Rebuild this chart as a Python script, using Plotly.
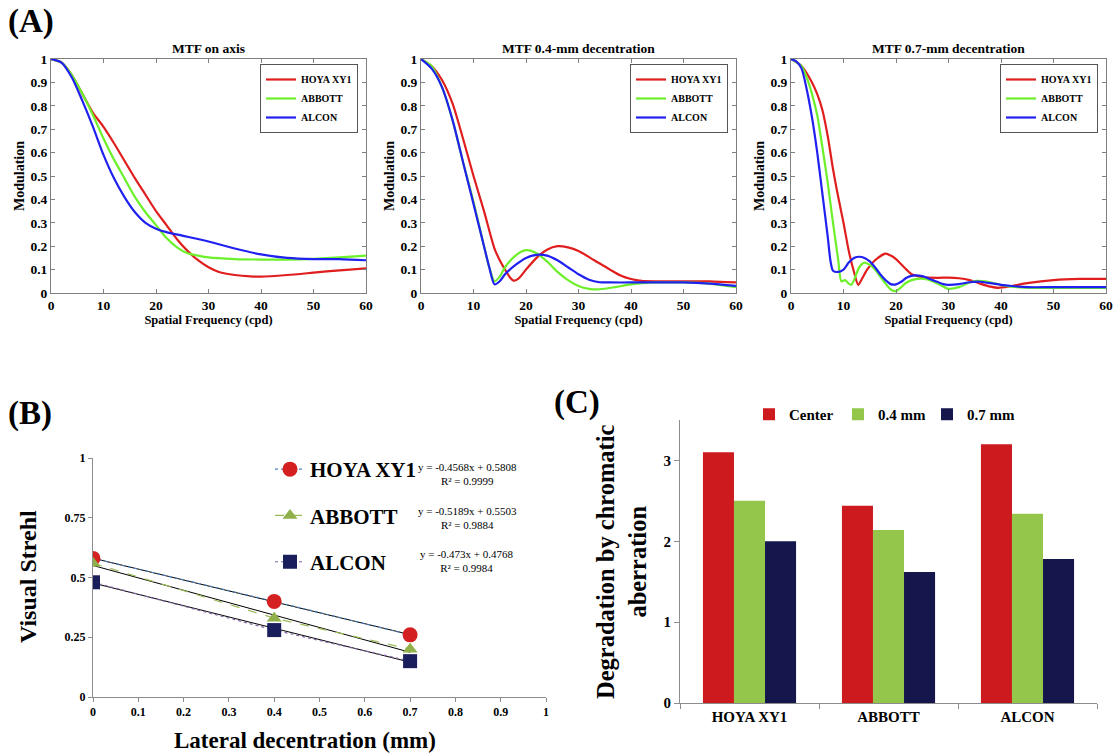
import plotly.graph_objects as go

W, H = 1120, 754
SERIF = "Liberation Serif"

def fx(p):
    return p / W

def fy(p):
    return 1 - p / H

# ---------------- Panel A data ----------------
series_names = ["HOYA XY1", "ABBOTT", "ALCON"]
mtf_colors = ["#E01E1E", "#6CF02A", "#2020F0"]
panel_titles = ["MTF on axis", "MTF 0.4-mm decentration", "MTF 0.7-mm decentration"]

# MTF on axis
axis_hoya_x = [0, 2, 4, 6, 8, 10, 12, 14, 16, 18, 20, 22, 24, 26, 28, 30, 32, 35, 38, 40, 45, 50, 55, 60]
axis_hoya_y = [1.0, 0.985, 0.93, 0.85, 0.77, 0.71, 0.64, 0.565, 0.49, 0.42, 0.35, 0.29, 0.23, 0.18, 0.14, 0.11, 0.09, 0.077, 0.071, 0.07, 0.077, 0.087, 0.097, 0.105]
axis_abbott_x = [0, 2, 4, 6, 8, 10, 12, 14, 16, 18, 20, 22, 24, 26, 28, 30, 35, 40, 45, 50, 55, 60]
axis_abbott_y = [1.0, 0.985, 0.93, 0.85, 0.76, 0.66, 0.57, 0.49, 0.41, 0.345, 0.29, 0.235, 0.195, 0.17, 0.16, 0.152, 0.145, 0.143, 0.143, 0.146, 0.152, 0.16]
axis_alcon_x = [0, 2, 4, 6, 8, 10, 12, 14, 16, 18, 20, 22, 25, 30, 35, 40, 45, 50, 55, 60]
axis_alcon_y = [1.0, 0.985, 0.92, 0.82, 0.71, 0.59, 0.49, 0.41, 0.345, 0.30, 0.275, 0.26, 0.245, 0.22, 0.19, 0.165, 0.15, 0.145, 0.145, 0.14]

# MTF 0.4-mm decentration
dec4_hoya_x = [0, 2, 4, 6, 8, 10, 12, 14, 15, 16, 17, 17.6, 18.5, 20, 22, 24, 26, 28, 30, 33, 36, 38, 40, 42, 45, 50, 55, 60]
dec4_hoya_y = [1.0, 0.97, 0.91, 0.81, 0.66, 0.50, 0.35, 0.19, 0.14, 0.10, 0.065, 0.053, 0.06, 0.10, 0.15, 0.185, 0.20, 0.195, 0.18, 0.14, 0.10, 0.075, 0.06, 0.052, 0.05, 0.05, 0.05, 0.045]
dec4_abbott_x = [0, 2, 4, 6, 8, 10, 12, 13, 14, 15, 16, 18, 20, 22, 24, 26, 28, 30, 32, 34, 37, 40, 45, 50, 55, 60]
dec4_abbott_y = [1.0, 0.97, 0.88, 0.74, 0.56, 0.39, 0.20, 0.11, 0.05, 0.07, 0.11, 0.16, 0.183, 0.17, 0.135, 0.09, 0.055, 0.03, 0.018, 0.016, 0.025, 0.037, 0.045, 0.045, 0.04, 0.025]
dec4_alcon_x = [0, 2, 4, 6, 8, 10, 12, 13, 14, 15, 16, 18, 20, 22, 24, 26, 28, 30, 32, 34, 36, 40, 45, 50, 55, 60]
dec4_alcon_y = [1.0, 0.96, 0.88, 0.74, 0.56, 0.38, 0.20, 0.11, 0.037, 0.05, 0.08, 0.12, 0.15, 0.163, 0.16, 0.14, 0.11, 0.08, 0.057, 0.046, 0.045, 0.045, 0.045, 0.045, 0.04, 0.03]

# MTF 0.7-mm decentration
dec7_hoya_x = [0, 2, 4, 5, 6, 7, 8, 9, 10, 11, 12, 12.8, 13.5, 14.5, 16, 18, 19, 20, 22, 23, 25, 28, 30, 32, 34, 36, 38, 39.5, 42, 45, 50, 55, 60]
dec7_hoya_y = [1.0, 0.97, 0.90, 0.85, 0.78, 0.67, 0.53, 0.41, 0.30, 0.18, 0.09, 0.035, 0.06, 0.10, 0.14, 0.168, 0.16, 0.145, 0.10, 0.08, 0.068, 0.065, 0.066, 0.063, 0.055, 0.04, 0.027, 0.022, 0.03, 0.042, 0.055, 0.06, 0.06]
dec7_abbott_x = [0, 2, 3, 4, 5, 6, 7, 8, 9, 9.6, 10.3, 11, 11.5, 12, 13, 14, 15, 16, 17, 18, 19, 20, 21, 22, 24, 26, 28, 30, 32, 34, 35.5, 37, 39, 41, 43, 46, 50, 55, 60]
dec7_abbott_y = [1.0, 0.97, 0.92, 0.85, 0.76, 0.62, 0.47, 0.30, 0.14, 0.05, 0.055, 0.04, 0.035, 0.055, 0.11, 0.13, 0.12, 0.10, 0.07, 0.04, 0.015, 0.008, 0.025, 0.045, 0.06, 0.058, 0.04, 0.018, 0.025, 0.045, 0.052, 0.05, 0.04, 0.03, 0.025, 0.022, 0.022, 0.022, 0.022]
dec7_alcon_x = [0, 1, 2, 3, 4, 5, 6, 7, 7.5, 8, 9, 10, 11, 12, 13, 14, 15, 16, 17, 18, 19, 20, 21, 22, 23.5, 25, 27, 29, 30, 32, 34, 36, 38, 40, 42, 45, 50, 55, 60]
dec7_alcon_y = [1.0, 0.99, 0.96, 0.87, 0.75, 0.60, 0.42, 0.24, 0.14, 0.095, 0.09, 0.10, 0.13, 0.15, 0.155, 0.15, 0.135, 0.11, 0.08, 0.055, 0.038, 0.037, 0.048, 0.065, 0.075, 0.072, 0.055, 0.038, 0.035, 0.038, 0.046, 0.048, 0.042, 0.035, 0.03, 0.025, 0.025, 0.025, 0.025]

panel_curves = [
    [(axis_hoya_x, axis_hoya_y), (axis_abbott_x, axis_abbott_y), (axis_alcon_x, axis_alcon_y)],
    [(dec4_hoya_x, dec4_hoya_y), (dec4_abbott_x, dec4_abbott_y), (dec4_alcon_x, dec4_alcon_y)],
    [(dec7_hoya_x, dec7_hoya_y), (dec7_abbott_x, dec7_abbott_y), (dec7_alcon_x, dec7_alcon_y)],
]

# ---------------- Panel B data ----------------
decentration = [0, 0.4, 0.7]
strehl_hoya = [0.58, 0.40, 0.26]
strehl_abbott = [0.56, 0.33, 0.20]
strehl_alcon = [0.48, 0.28, 0.15]
fit_slopes = [-0.4568, -0.5189, -0.473]
fit_intercepts = [0.5808, 0.5503, 0.4768]
fit_r2 = ["0.9999", "0.9884", "0.9984"]
fit_slope_text = ["-0.4568", "-0.5189", "-0.473"]
fit_int_text = ["0.5808", "0.5503", "0.4768"]
b_marker_colors = ["#D42020", "#8FB04A", "#1A1F5C"]
b_marker_symbols = ["circle", "triangle-up", "square"]
b_line_colors = ["#4F81BD", "#9BBB59", "#8064A2"]
b_line_dash = ["dot", "dash", "dot"]

# ---------------- Panel C data ----------------
lenses = ["HOYA XY1", "ABBOTT", "ALCON"]
deg_center = [3.10, 2.44, 3.20]
deg_04 = [2.50, 2.14, 2.34]
deg_07 = [2.00, 1.62, 1.78]
c_names = ["Center", "0.4 mm", "0.7 mm"]
c_colors = ["#CC1A1E", "#93C64B", "#14164C"]

fig = go.Figure()

# ---------- Panel A ----------
a_left = [51, 421, 791]
a_right = [366, 736, 1106]
a_top, a_bot = 59, 293
legend_right = [358, 728, 1098]
ax_names = ["", "2", "3"]
leg_names = ["legend", "legend2", "legend3"]

for p in range(3):
    xa = "x" + ax_names[p]
    ya = "y" + ax_names[p]
    for s in range(3):
        xs, ys = panel_curves[p][s]
        fig.add_trace(go.Scatter(
            x=xs, y=ys, mode="lines", name=series_names[s],
            line=dict(color=mtf_colors[s], width=2.2, shape="spline", smoothing=0.7),
            xaxis=xa, yaxis=ya, legend=leg_names[p], showlegend=True,
        ))
    axis_common = dict(showline=True, linecolor="#7F7F7F", linewidth=1, mirror="ticks",
                       ticks="inside", ticklen=4, tickcolor="#7F7F7F", showgrid=False,
                       zeroline=False,
                       tickfont=dict(family=SERIF, size=13.5, color="black", weight="bold"))
    fig.layout["xaxis" + ax_names[p]] = dict(
        domain=[fx(a_left[p]), fx(a_right[p])], anchor=ya, range=[0, 60], dtick=10,
        title=dict(text="Spatial Frequency (cpd)", standoff=1,
                   font=dict(family=SERIF, size=12.5, color="black", weight="bold")),
        **axis_common)
    fig.layout["yaxis" + ax_names[p]] = dict(
        domain=[fy(a_bot), fy(a_top)], anchor=xa, range=[0, 1], dtick=0.1,
        title=dict(text="Modulation", standoff=2,
                   font=dict(family=SERIF, size=14, color="black", weight="bold")),
        **axis_common)
    fig.layout[leg_names[p]] = dict(
        x=fx(legend_right[p]), y=fy(64), xanchor="right", yanchor="top",
        bordercolor="#555555", borderwidth=1, bgcolor="white",
        font=dict(family=SERIF, size=10, color="black", weight="bold"),
        itemwidth=30, tracegroupgap=0, traceorder="normal",
    )
    fig.add_annotation(text=panel_titles[p], x=fx((a_left[p] + a_right[p]) / 2), y=fy(48),
                       xref="paper", yref="paper", showarrow=False, xanchor="center", yanchor="middle",
                       font=dict(family=SERIF, size=13.5, color="black", weight="bold"))

# ---------- Panel B ----------
b_series = [strehl_hoya, strehl_abbott, strehl_alcon]
fit_x = [decentration[0], decentration[-1]]
for s in range(3):
    fit_y = [fit_slopes[s] * xv + fit_intercepts[s] for xv in fit_x]
    fig.add_trace(go.Scatter(x=fit_x, y=fit_y, mode="lines", line=dict(color="black", width=1),
                             xaxis="x4", yaxis="y4", showlegend=False, hoverinfo="skip"))
for s in range(3):
    fig.add_trace(go.Scatter(
        x=decentration, y=b_series[s], mode="lines+markers", name=series_names[s],
        line=dict(color=b_line_colors[s], width=1.2, dash=b_line_dash[s]),
        marker=dict(color=b_marker_colors[s], symbol=b_marker_symbols[s],
                    size=[15, 13, 14][s], line=dict(width=0)),
        xaxis="x4", yaxis="y4", legend="legend4", legendgroup="b" + str(s), showlegend=True,
    ))

b_axis_common = dict(showline=True, linecolor="#8C8C8C", linewidth=1, ticks="outside",
                     ticklen=4, tickcolor="#8C8C8C", showgrid=False, zeroline=False,
                     tickfont=dict(family=SERIF, size=12, color="black", weight="bold"))
fig.layout["xaxis4"] = dict(domain=[fx(93), fx(546)], anchor="y4", range=[0, 1],
                            tickvals=[0, 0.1, 0.2, 0.3, 0.4, 0.5, 0.6, 0.7, 0.8, 0.9, 1],
                            **b_axis_common)
fig.layout["yaxis4"] = dict(domain=[fy(697), fy(458)], anchor="x4", range=[0, 1],
                            tickvals=[0, 0.25, 0.5, 0.75, 1], **b_axis_common)
fig.layout["legend4"] = dict(x=fx(270), y=fy(449), xanchor="left", yanchor="top",
                             bgcolor="rgba(0,0,0,0)", borderwidth=0,
                             font=dict(family=SERIF, size=21, color="black", weight="bold"),
                             itemwidth=30, tracegroupgap=16, traceorder="grouped")
eq_y = [467, 511, 554]
for s in range(3):
    fig.add_annotation(
        text="y = " + fit_slope_text[s] + "x + " + fit_int_text[s] + "<br>R² = " + fit_r2[s],
        x=fx(467), y=fy(eq_y[s] + 7), xref="paper", yref="paper", showarrow=False,
        xanchor="center", yanchor="middle", align="center",
        font=dict(family=SERIF, size=11, color="black"))
fig.add_annotation(text="Visual Strehl", x=fx(28), y=fy(577), xref="paper", yref="paper",
                   showarrow=False, textangle=-90, xanchor="center", yanchor="middle",
                   font=dict(family=SERIF, size=24, color="black", weight="bold"))
fig.add_annotation(text="Lateral decentration (mm)", x=fx(305), y=fy(740), xref="paper", yref="paper",
                   showarrow=False, xanchor="center", yanchor="middle",
                   font=dict(family=SERIF, size=23, color="black", weight="bold"))

# ---------- Panel C ----------
for vals, nm, col in zip([deg_center, deg_04, deg_07], c_names, c_colors):
    fig.add_trace(go.Bar(x=lenses, y=vals, name=nm, marker=dict(color=col, line=dict(width=0)),
                         xaxis="x5", yaxis="y5", legend="legend5", showlegend=True))
fig.layout["xaxis5"] = dict(domain=[fx(680), fx(1097)], anchor="y5", type="category",
                            showline=True, linecolor="#8C8C8C", linewidth=1, ticks="outside",
                            tickson="boundaries", ticklen=5, tickcolor="#8C8C8C", showgrid=False,
                            tickfont=dict(family=SERIF, size=15, color="black", weight="bold"))
fig.layout["yaxis5"] = dict(domain=[fy(703), fy(420)], anchor="x5", range=[0, 3.5],
                            tickvals=[0, 1, 2, 3], showline=True, linecolor="#8C8C8C", linewidth=1,
                            ticks="outside", ticklen=5, tickcolor="#8C8C8C", showgrid=False,
                            zeroline=False,
                            tickfont=dict(family=SERIF, size=15, color="black", weight="bold"))
fig.layout["legend5"] = dict(orientation="h", x=fx(749), y=fy(398), xanchor="left", yanchor="top",
                             bgcolor="rgba(0,0,0,0)", entrywidth=44, entrywidthmode="pixels",
                             font=dict(family=SERIF, size=15, color="black", weight="bold"),
                             itemwidth=30, traceorder="normal")
fig.add_annotation(text="Degradation by chromatic<br>aberration", x=fx(621), y=fy(562),
                   xref="paper", yref="paper", showarrow=False, textangle=-90,
                   xanchor="center", yanchor="middle", align="center",
                   font=dict(family=SERIF, size=24.5, color="black", weight="bold"))

# ---------- Panel labels ----------
for lab, xp, yp in [("(A)", 6, 22), ("(B)", 6, 413), ("(C)", 552, 402)]:
    fig.add_annotation(text=lab, x=fx(xp), y=fy(yp), xref="paper", yref="paper", showarrow=False,
                       xanchor="left", yanchor="middle",
                       font=dict(family=SERIF, size=33, color="black", weight="bold"))

fig.update_layout(
    width=W, height=H, margin=dict(l=0, r=0, t=0, b=0, autoexpand=False),
    paper_bgcolor="white", plot_bgcolor="white",
    bargap=0.33, bargroupgap=0, barmode="group",
    font=dict(family=SERIF, color="black"),
)

fig.write_html("out.html", config={"displayModeBar": False},
               post_script="document.body.style.margin='0';")
